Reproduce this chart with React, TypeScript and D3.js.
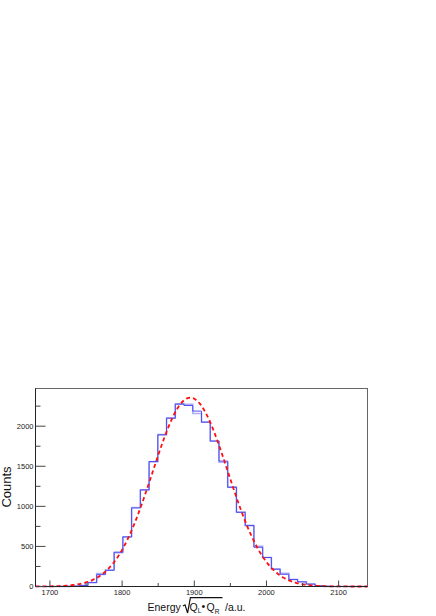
import React, { useEffect, useRef } from 'react';
import * as d3 from 'd3';

// histogram binning: 38 bins over the axis range
const xMin = 1680;
const xMax = 2140;
const nBins = 38;

// counts per bin
const countsMain = [
  0, 0, 0, 2, 5, 12, 48, 148, 202, 428,
  618, 980, 1205, 1560, 1892, 2100, 2275, 2258, 2188, 2050,
  1815, 1565, 1238, 925, 762, 490, 362, 216, 152, 88,
  58, 30, 8, 2, 0, 0, 0, 0,
];
const countsShadow = [
  0, 0, 0, 2, 6, 14, 50, 160, 205, 422,
  620, 985, 1205, 1555, 1895, 2100, 2278, 2272, 2158, 2050,
  1812, 1550, 1240, 930, 760, 500, 362, 218, 165, 88,
  60, 32, 8, 2, 0, 0, 0, 0,
];

// gaussian fit parameters
const fitAmp = 2355;
const fitMean = 1894.5;
const fitSigma = 52.2;

const xTicks = [1700, 1800, 1900, 2000, 2100];
const xMinor = [1750, 1850, 1950, 2050];
const yTicks = [0, 500, 1000, 1500, 2000];
const yMinor = [250, 750, 1250, 1750, 2250];
const yMax = 2470;

const W = 436;
const H = 616;

const App = () => {
  const svgRef = useRef(null);

  useEffect(() => {
    const frame = { left: 35.5, right: 367.5, top: 388.5, bottom: 586.5 };
    const font = 'Liberation Sans, Arial, Helvetica, sans-serif';

    const svg = d3.select(svgRef.current);
    svg.selectAll('*').remove();
    svg.attr('width', W).attr('height', H);

    const x = d3.scaleLinear().domain([xMin, xMax]).range([frame.left, frame.right]);
    const y = d3.scaleLinear().domain([0, yMax]).range([frame.bottom, frame.top]);

    const binW = (xMax - xMin) / nBins;
    const stepPts = (counts) => {
      const pts = counts.map((c, i) => [xMin + i * binW, c]);
      pts.push([xMax, counts[counts.length - 1]]);
      return pts;
    };
    const step = d3.line()
      .x(d => x(d[0]))
      .y(d => y(d[1]))
      .curve(d3.curveStepAfter);

    // frame
    svg.append('rect')
      .attr('x', frame.left).attr('y', frame.top)
      .attr('width', frame.right - frame.left)
      .attr('height', frame.bottom - frame.top)
      .attr('fill', 'white')
      .attr('stroke', '#666')
      .attr('stroke-width', 1);

    // histograms
    svg.append('path')
      .attr('d', step(stepPts(countsShadow)))
      .attr('fill', 'none')
      .attr('stroke', '#b0b0f6')
      .attr('stroke-width', 1.6);
    svg.append('path')
      .attr('d', step(stepPts(countsMain)))
      .attr('fill', 'none')
      .attr('stroke', '#4040ee')
      .attr('stroke-width', 0.9);

    // fit curve
    const fx = d3.range(xMin, xMax + 0.01, 2);
    const fit = d3.line()
      .x(d => x(d))
      .y(d => y(fitAmp * Math.exp(-0.5 * ((d - fitMean) / fitSigma) ** 2)))
      .curve(d3.curveMonotoneX);
    svg.append('path')
      .attr('d', fit(fx))
      .attr('fill', 'none')
      .attr('stroke', '#ff1010')
      .attr('stroke-width', 1.8)
      .attr('stroke-dasharray', '4,3');

    // axes lines
    svg.append('line')
      .attr('x1', frame.left).attr('x2', frame.right)
      .attr('y1', frame.bottom).attr('y2', frame.bottom)
      .attr('stroke', '#222').attr('stroke-width', 1);
    svg.append('line')
      .attr('x1', frame.left).attr('x2', frame.left)
      .attr('y1', frame.top).attr('y2', frame.bottom)
      .attr('stroke', '#222').attr('stroke-width', 1);

    // x ticks
    const tickCol = '#444';
    svg.selectAll('.xt').data(xTicks).enter().append('line')
      .attr('x1', d => x(d)).attr('x2', d => x(d))
      .attr('y1', frame.bottom).attr('y2', frame.bottom - 6)
      .attr('stroke', tickCol);
    svg.selectAll('.xm').data(xMinor).enter().append('line')
      .attr('x1', d => x(d)).attr('x2', d => x(d))
      .attr('y1', frame.bottom).attr('y2', frame.bottom - 3.5)
      .attr('stroke', tickCol);
    svg.selectAll('.xl').data(xTicks).enter().append('text')
      .attr('x', d => x(d)).attr('y', 594.5)
      .attr('text-anchor', 'middle')
      .style('font-family', font).style('font-size', '7.5px').style('fill', '#222')
      .text(d => d);

    // y ticks
    svg.selectAll('.yt').data(yTicks).enter().append('line')
      .attr('x1', frame.left).attr('x2', frame.left + 10)
      .attr('y1', d => y(d)).attr('y2', d => y(d))
      .attr('stroke', tickCol);
    svg.selectAll('.ym').data(yMinor).enter().append('line')
      .attr('x1', frame.left).attr('x2', frame.left + 5)
      .attr('y1', d => y(d)).attr('y2', d => y(d))
      .attr('stroke', tickCol);
    svg.selectAll('.yl').data(yTicks).enter().append('text')
      .attr('x', 33.5).attr('y', d => y(d) + 2.7)
      .attr('text-anchor', 'end')
      .style('font-family', font).style('font-size', '7.5px').style('fill', '#222')
      .text(d => d);

    // y title
    svg.append('text')
      .attr('transform', `translate(10.8,${(frame.top + frame.bottom) / 2 - 0.5}) rotate(-90)`)
      .attr('text-anchor', 'middle')
      .style('font-family', font).style('font-size', '13px').style('fill', '#111')
      .text('Counts');

    // x title: Energy sqrt(Q_L . Q_R) /a.u.
    const t = svg.append('g')
      .style('font-family', font).style('fill', '#111');
    const base = 610.5;
    t.append('text').attr('x', 147.5).attr('y', base)
      .style('font-size', '10.5px').text('Energy');
    t.append('path')
      .attr('d', `M183,606 L185,604.8 L187.6,613 L190.4,597.6 L222.5,597.6`)
      .attr('fill', 'none').attr('stroke', '#111').attr('stroke-width', 1.2)
      .attr('stroke-linejoin', 'miter');
    t.append('text').attr('x', 189.6).attr('y', base)
      .style('font-size', '10.5px').text('Q');
    t.append('text').attr('x', 197.8).attr('y', base + 2.6)
      .style('font-size', '6.5px').text('L');
    t.append('text').attr('x', 201.6).attr('y', base - 0.3)
      .style('font-size', '10.5px').text('•');
    t.append('text').attr('x', 206.6).attr('y', base)
      .style('font-size', '10.5px').text('Q');
    t.append('text').attr('x', 214.8).attr('y', base + 3.2)
      .style('font-size', '6.5px').text('R');
    t.append('text').attr('x', 225).attr('y', base)
      .style('font-size', '10.5px').text('/a.u.');
  }, []);

  return (
    <div>
      <svg ref={svgRef} style={{ position: 'absolute', left: 0, top: 0 }}></svg>
    </div>
  );
};

export default App;
